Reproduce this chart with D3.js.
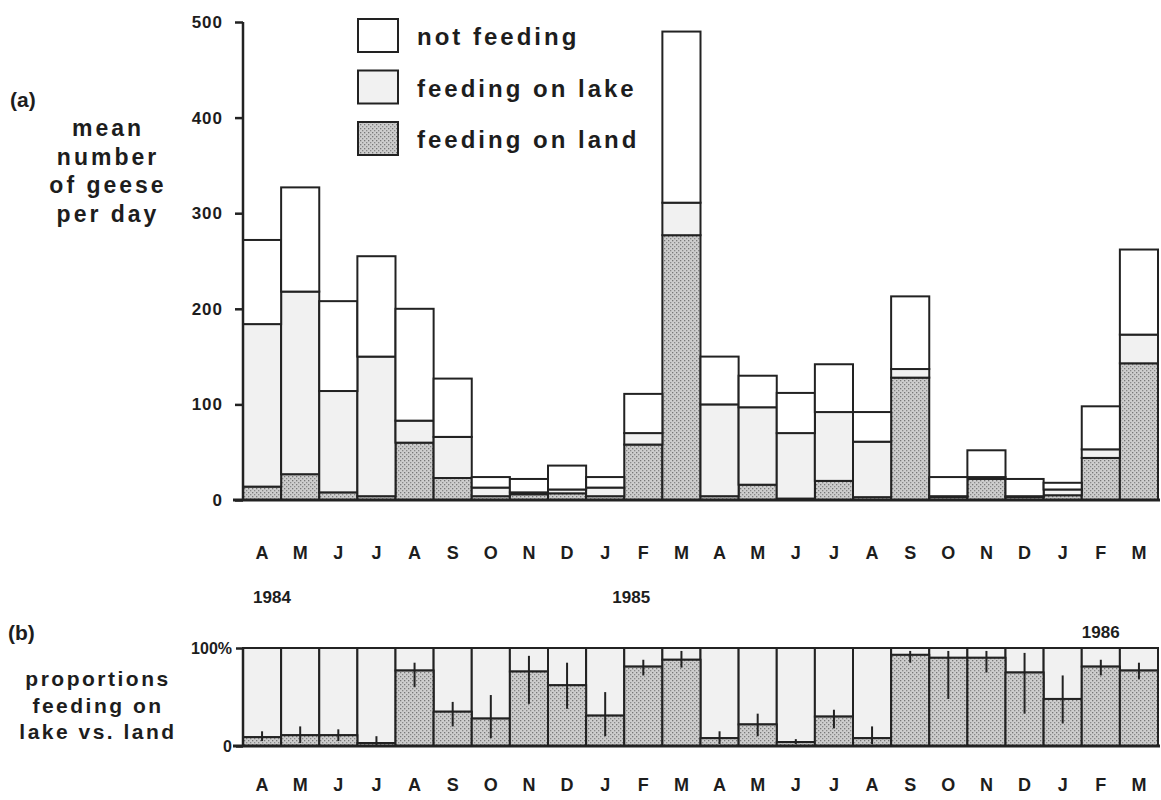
<!DOCTYPE html>
<html><head><meta charset="utf-8">
<script src="https://cdn.jsdelivr.net/npm/d3@7"></script>
<style>
body{margin:0;background:#fff;}
svg{display:block;}
text{font-family:"Liberation Sans",Arial,Helvetica,sans-serif;font-weight:bold;fill:#1d1d1d;}
</style></head>
<body>
<svg id="chart" width="1161" height="800"></svg>
<script>
// ---- data ----
const months = ["A","M","J","J","A","S","O","N","D","J","F","M","A","M","J","J","A","S","O","N","D","J","F","M"];
const feedingOnLand = [14,27,8,4,60,23,4,6,7,4,58,277,4,16,1.5,20,3,128,3,22,3,5,44,143];
const feedingOnLake = [170,191,106,146,23,43,9,2,4,9,12,34,96,81,68.5,72,58,9,1,2,1,6,9,30];
const notFeeding    = [88,109,94,105,117,61,11,14,25,11,41,179,50,33,42,50,31,76,20,28,18,7,45,89];
const landPct  = [9,11,11,3,77,35,28,76,62,31,81,88,8,22,4,30,8,93,90,90,75,48,81,77];
const errLow   = [5,3,5,0,60,20,8,43,38,10,72,80,2,10,2,18,2,85,48,75,33,23,72,68];
const errHigh  = [15,20,17,10,85,45,52,92,85,55,88,97,15,33,7,37,20,97,97,97,95,72,88,85];
const yTicksA = [0,100,200,300,400,500];
const legendLabels = ["not feeding","feeding on lake","feeding on land"];
const yearLabels = ["1984","1985","1986"];
const yearIndex = [0,10,22];

const svg = d3.select("#chart");
const defs = svg.append("defs");
const pat = defs.append("pattern").attr("id","stip").attr("patternUnits","userSpaceOnUse")
  .attr("width",4).attr("height",4);
pat.append("rect").attr("width",4).attr("height",4).attr("fill","#cdcdcd");
pat.append("rect").attr("x",0).attr("y",0).attr("width",1.3).attr("height",1.3).attr("fill","#777");
pat.append("rect").attr("x",2).attr("y",2).attr("width",1.3).attr("height",1.3).attr("fill","#888");

const stroke = "#222";
const fills = ["#ffffff","#f1f1f1","url(#stip)"];

const x = d3.scaleBand().domain(d3.range(months.length)).range([243,1158]).padding(0);
const y = d3.scaleLinear().domain([0,500]).range([500,22]);

// ---- panel (a) ----
const stackData = months.map((m,i)=>({i, land:feedingOnLand[i], lake:feedingOnLake[i], not:notFeeding[i]}));
const stack = d3.stack().keys(["land","lake","not"])(stackData);
const segFill = {land:fills[2], lake:fills[1], not:fills[0]};
svg.append("g").selectAll("g").data(stack).join("g")
  .attr("fill", d=>segFill[d.key])
  .selectAll("rect").data(d=>d).join("rect")
  .attr("x", d=>x(d.data.i)).attr("width", x.bandwidth())
  .attr("y", d=>y(d[1])).attr("height", d=>y(d[0])-y(d[1]))
  .attr("stroke",stroke).attr("stroke-width",2);

const yAxis = d3.axisLeft(y).tickValues(yTicksA).tickSize(8).tickPadding(12);
const ga = svg.append("g").attr("transform","translate(243,0)").call(yAxis);
ga.select(".domain").attr("stroke",stroke).attr("stroke-width",2.5).attr("d","M0,22V500");
ga.selectAll(".tick line").attr("stroke",stroke).attr("stroke-width",2.5);
ga.selectAll(".tick text").style("font-size","17px").style("letter-spacing","1px").attr("fill","#1d1d1d");
svg.append("line").attr("x1",233).attr("x2",1160).attr("y1",y(0)).attr("y2",y(0))
  .attr("stroke",stroke).attr("stroke-width",3);

const xAxisA = d3.axisBottom(x).tickFormat(i=>months[i]).tickSize(0).tickPadding(0);
const gx = svg.append("g").attr("transform","translate(0,546)").call(xAxisA);
gx.select(".domain").remove();
gx.selectAll(".tick text").style("font-size","18px").attr("fill","#1d1d1d");

// year labels
const yearOffsets = [29, 7, 19];
const yearY = [603, 603, 638];
svg.append("g").selectAll("text").data(yearLabels).join("text")
  .attr("x",(d,k)=>x(yearIndex[k])+yearOffsets[k]).attr("y",(d,k)=>yearY[k])
  .attr("text-anchor","middle").style("font-size","17px").text(d=>d);

// legend
const lg = svg.append("g");
legendLabels.forEach((t,k)=>{
  lg.append("rect").attr("x",358).attr("y",19+k*51.5).attr("width",40).attr("height",33)
    .attr("fill",fills[k]).attr("stroke",stroke).attr("stroke-width",2);
  lg.append("text").attr("x",417).attr("y",45+k*51.5).style("font-size","24px")
    .style("letter-spacing","3px").text(t);
});

// labels
svg.append("text").attr("x",10).attr("y",107).style("font-size","21px").text("(a)");
const ylab = ["mean","number","of geese","per day"];
svg.append("g").selectAll("text").data(ylab).join("text")
  .attr("x",108).attr("y",(d,k)=>136+k*28.5).attr("text-anchor","middle")
  .style("font-size","23px").style("letter-spacing","3px").text(d=>d);

// ---- panel (b) ----
const yb = d3.scaleLinear().domain([0,100]).range([746,648]);
const gb = svg.append("g");
gb.selectAll("rect.lake").data(landPct).join("rect").attr("class","lake")
  .attr("x",(d,i)=>x(i)).attr("width",x.bandwidth())
  .attr("y",yb(100)).attr("height",d=>yb(d)-yb(100))
  .attr("fill",fills[1]).attr("stroke",stroke).attr("stroke-width",2);
gb.selectAll("rect.land").data(landPct).join("rect").attr("class","land")
  .attr("x",(d,i)=>x(i)).attr("width",x.bandwidth())
  .attr("y",d=>yb(d)).attr("height",d=>yb(0)-yb(d))
  .attr("fill",fills[2]).attr("stroke",stroke).attr("stroke-width",2);
gb.selectAll("line.err").data(landPct).join("line").attr("class","err")
  .attr("x1",(d,i)=>x(i)+x.bandwidth()/2).attr("x2",(d,i)=>x(i)+x.bandwidth()/2)
  .attr("y1",(d,i)=>yb(errLow[i])).attr("y2",(d,i)=>yb(errHigh[i]))
  .attr("stroke",stroke).attr("stroke-width",2);

const ybAxis = d3.axisLeft(yb).tickValues([0,100]).tickFormat(d=>d===100?"100%":"0").tickSize(7).tickPadding(4);
const gyb = svg.append("g").attr("transform","translate(243,0)").call(ybAxis);
gyb.select(".domain").attr("stroke",stroke).attr("stroke-width",2.5).attr("d","M0,648V746");
gyb.selectAll(".tick line").attr("stroke",stroke).attr("stroke-width",2.5);
gyb.selectAll(".tick text").style("font-size","16px").attr("fill","#1d1d1d");
svg.append("line").attr("x1",233).attr("x2",1160).attr("y1",yb(0)).attr("y2",yb(0))
  .attr("stroke",stroke).attr("stroke-width",3);

const gxb = svg.append("g").attr("transform","translate(0,778)").call(xAxisA);
gxb.select(".domain").remove();
gxb.selectAll(".tick text").style("font-size","18px").attr("fill","#1d1d1d");

svg.append("text").attr("x",8).attr("y",640).style("font-size","21px").text("(b)");
const blab = ["proportions","feeding on","lake vs. land"];
svg.append("g").selectAll("text").data(blab).join("text")
  .attr("x",98).attr("y",(d,k)=>686+k*26.5).attr("text-anchor","middle")
  .style("font-size","21px").style("letter-spacing","2.5px").text(d=>d);
</script>
</body></html>
